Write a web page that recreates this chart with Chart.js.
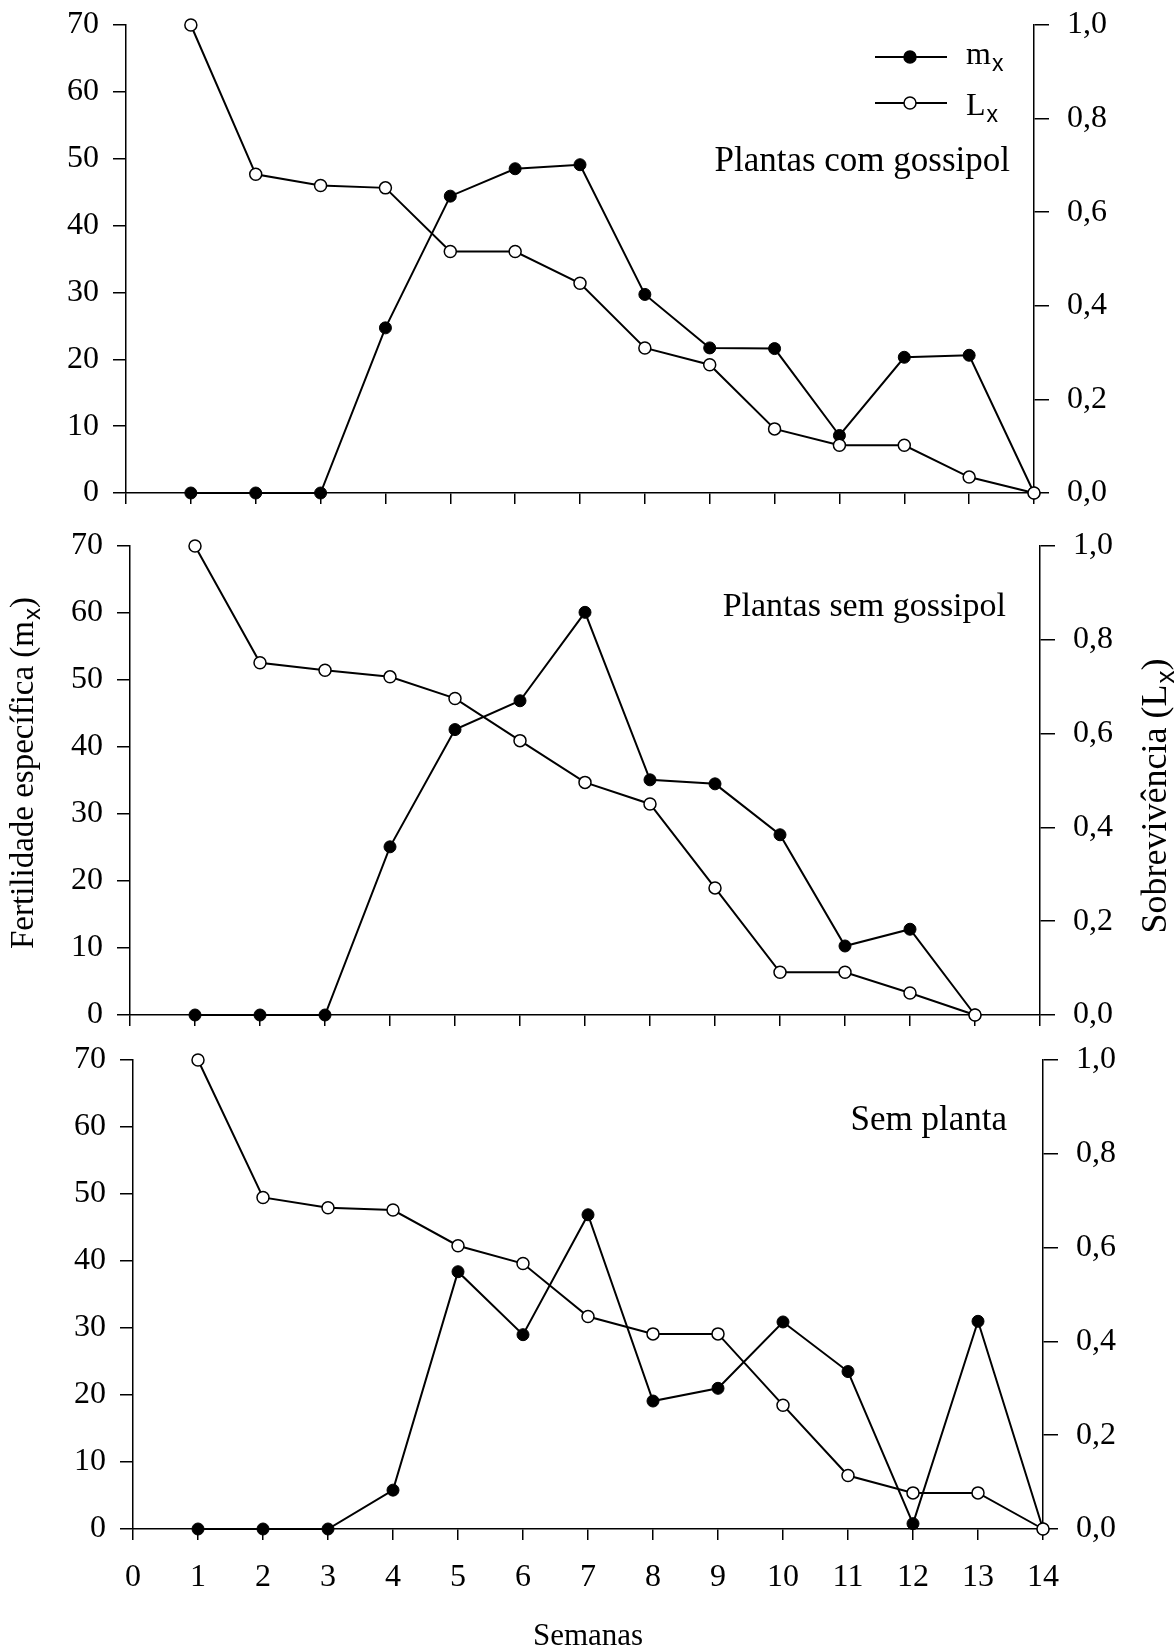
<!DOCTYPE html>
<html>
<head>
<meta charset="utf-8">
<script src="https://cdn.jsdelivr.net/npm/chart.js@4.4.0/dist/chart.umd.min.js"></script>
<style>
  body { margin: 0; background: #fff; }
  .painel { position: absolute; left: 0; }
</style>
</head>
<body>
<canvas id="g1" class="painel" width="1174" height="515" style="top:0px"></canvas>
<canvas id="g2" class="painel" width="1174" height="520" style="top:515px"></canvas>
<canvas id="g3" class="painel" width="1174" height="612" style="top:1035px"></canvas>
<script>
// semanas (eixo x)
var semanas = [1, 2, 3, 4, 5, 6, 7, 8, 9, 10, 11, 12, 13, 14];

// Plantas com gossipol
var mxCom = [0, 0, 0, 24.7, 44.4, 48.5, 49.1, 29.7, 21.7, 21.6, 8.6, 20.3, 20.6, 0];
var lxCom = [1.0, 0.681, 0.657, 0.652, 0.516, 0.516, 0.448, 0.310, 0.274, 0.137, 0.102, 0.102, 0.034, 0];

// Plantas sem gossipol (termina na semana 13)
var mxSem = [0, 0, 0, 25.1, 42.6, 46.9, 60.1, 35.1, 34.5, 26.9, 10.3, 12.8, 0];
var lxSem = [1.0, 0.751, 0.735, 0.721, 0.675, 0.585, 0.496, 0.450, 0.271, 0.091, 0.091, 0.047, 0];

// Sem planta
var mxSemPlanta = [0, 0, 0, 5.8, 38.4, 29.0, 46.9, 19.1, 21.0, 30.9, 23.5, 0.8, 31.0, 0];
var lxSemPlanta = [1.0, 0.707, 0.685, 0.680, 0.604, 0.566, 0.453, 0.416, 0.416, 0.264, 0.114, 0.077, 0.077, 0];

var ticksX = [0, 1, 2, 3, 4, 5, 6, 7, 8, 9, 10, 11, 12, 13, 14];
var ticksEsq = [0, 10, 20, 30, 40, 50, 60, 70];
var ticksDir = [0, 0.2, 0.4, 0.6, 0.8, 1.0];

var SERIF = '"Liberation Serif", "Times New Roman", serif';
var W = 1174;

function pares(ys) {
  return ys.map(function (v, i) { return { x: semanas[i], y: v }; });
}

function fonte(p, size) {
  return p[1] ? Math.round(size * 0.72) + 'px "Liberation Sans", sans-serif' : size + 'px ' + SERIF;
}

// texto com subscrito: parts = [[texto, ehSub], ...]
function texto(ctx, parts, x, y, align, size) {
  var w = 0;
  parts.forEach(function (p) { ctx.font = fonte(p, size); w += ctx.measureText(p[0]).width; });
  var cx = align === 'right' ? x - w : (align === 'center' ? x - w / 2 : x);
  parts.forEach(function (p) {
    ctx.font = fonte(p, size);
    ctx.fillText(p[0], cx + (p[1] ? 1 : 0), y + (p[1] ? size * 0.22 : 0));
    cx += ctx.measureText(p[0]).width + (p[1] ? 1 : 0);
  });
}

function notas(desenha) {
  return {
    id: 'notas',
    afterDraw: function (chart) {
      var ctx = chart.ctx;
      ctx.save();
      ctx.fillStyle = '#000';
      ctx.textBaseline = 'alphabetic';
      desenha(ctx, chart.chartArea, chart);
      ctx.restore();
    }
  };
}

function semPadding(s) {
  s.paddingTop = 0;
  s.paddingBottom = 0;
}

function criaGrafico(id, mx, lx, box, mostraX, desenha) {
  var ctx = document.getElementById(id).getContext('2d');
  var altura = document.getElementById(id).height;
  return new Chart(ctx, {
    type: 'line',
    data: {
      datasets: [{
        label: 'Lx',
        data: pares(lx),
        yAxisID: 'yDir',
        order: 0,
        borderColor: '#000',
        borderWidth: 2,
        pointRadius: 6,
        pointBorderWidth: 1.5,
        pointBackgroundColor: '#fff',
        pointBorderColor: '#000',
        clip: false
      }, {
        label: 'mx',
        data: pares(mx),
        yAxisID: 'yEsq',
        order: 1,
        borderColor: '#000',
        borderWidth: 2,
        pointRadius: 6,
        pointBorderWidth: 1,
        pointBackgroundColor: '#000',
        pointBorderColor: '#000',
        clip: false
      }]
    },
    options: {
      responsive: false,
      animation: false,
      layout: { padding: { top: box.top, left: 0, right: 0, bottom: 0 } },
      plugins: { legend: { display: false }, tooltip: { enabled: false } },
      elements: { line: { tension: 0 } },
      scales: {
        x: {
          type: 'linear',
          min: 0,
          max: 14,
          afterBuildTicks: function (s) { s.ticks = ticksX.map(function (v) { return { value: v }; }); },
          afterFit: function (s) { s.height = altura - box.bottom; s.paddingLeft = 0; s.paddingRight = 0; },
          border: { display: true, color: '#000', width: 1.5 },
          grid: { drawOnChartArea: false, drawTicks: true, tickLength: 11, color: '#000', lineWidth: 1.5 },
          ticks: { display: mostraX, color: '#000', padding: 18, maxRotation: 0, autoSkip: false, font: { family: SERIF, size: 32 } }
        },
        yEsq: {
          position: 'left',
          min: 0,
          max: 70,
          afterBuildTicks: function (s) { s.ticks = ticksEsq.map(function (v) { return { value: v }; }); },
          afterFit: function (s) { s.width = box.left; semPadding(s); },
          border: { display: true, color: '#000', width: 1.5 },
          grid: { drawOnChartArea: false, drawTicks: true, tickLength: 13, color: '#000', lineWidth: 1.5 },
          ticks: { color: '#000', padding: 14, font: { family: SERIF, size: 32 } }
        },
        yDir: {
          position: 'right',
          min: 0,
          max: 1,
          afterBuildTicks: function (s) { s.ticks = ticksDir.map(function (v) { return { value: v }; }); },
          afterFit: function (s) { s.width = W - box.right; semPadding(s); },
          border: { display: true, color: '#000', width: 1.5 },
          grid: { drawOnChartArea: false, drawTicks: true, tickLength: 15, color: '#000', lineWidth: 1.5 },
          ticks: {
            color: '#000', padding: 18, font: { family: SERIF, size: 32 },
            callback: function (v) { return v.toFixed(1).replace('.', ','); }
          }
        }
      }
    },
    plugins: [notas(desenha)]
  });
}

// painel 1: Plantas com gossipol + legenda
criaGrafico('g1', mxCom, lxCom, { top: 25, bottom: 493, left: 126, right: 1034 }, false, function (ctx, a) {
  texto(ctx, [['Plantas com gossipol', 0]], a.right - 24, a.top + 146, 'right', 35);
  var linhas = [
    { rot: [['m', 0], ['x', 1]], cheio: true, ly: a.top + 32, ty: a.top + 39 },
    { rot: [['L', 0], ['x', 1]], cheio: false, ly: a.top + 78, ty: a.top + 90 }
  ];
  linhas.forEach(function (l) {
    ctx.strokeStyle = '#000';
    ctx.lineWidth = 2;
    ctx.beginPath();
    ctx.moveTo(a.right - 159, l.ly);
    ctx.lineTo(a.right - 87, l.ly);
    ctx.stroke();
    ctx.beginPath();
    ctx.arc(a.right - 124, l.ly, 6, 0, Math.PI * 2);
    ctx.fillStyle = l.cheio ? '#000' : '#fff';
    ctx.fill();
    ctx.lineWidth = 1.5;
    ctx.stroke();
    ctx.fillStyle = '#000';
    texto(ctx, l.rot, a.right - 68, l.ty, 'left', 32);
  });
});

// painel 2: Plantas sem gossipol + títulos dos eixos y
criaGrafico('g2', mxSem, lxSem, { top: 31, bottom: 500, left: 130, right: 1040 }, false, function (ctx, a) {
  texto(ctx, [['Plantas sem gossipol', 0]], a.right - 34, a.top + 70, 'right', 34);
  var cy = (a.top + a.bottom) / 2;
  ctx.save();
  ctx.translate(23, cy - 7);
  ctx.rotate(-Math.PI / 2);
  texto(ctx, [['Fertilidade específica (m', 0], ['x', 1], [')', 0]], 0, 10, 'center', 33);
  ctx.restore();
  ctx.save();
  ctx.translate(1155, cy + 16);
  ctx.rotate(-Math.PI / 2);
  texto(ctx, [['Sobrevivência (L', 0], ['x', 1], [')', 0]], 0, 11, 'center', 36);
  ctx.restore();
});

// painel 3: Sem planta + título do eixo x
criaGrafico('g3', mxSemPlanta, lxSemPlanta, { top: 25, bottom: 494, left: 133, right: 1043 }, true, function (ctx, a) {
  texto(ctx, [['Sem planta', 0]], a.right - 36, a.top + 70, 'right', 35);
  texto(ctx, [['Semanas', 0]], (a.left + a.right) / 2, a.bottom + 116, 'center', 31);
});
</script>
</body>
</html>
